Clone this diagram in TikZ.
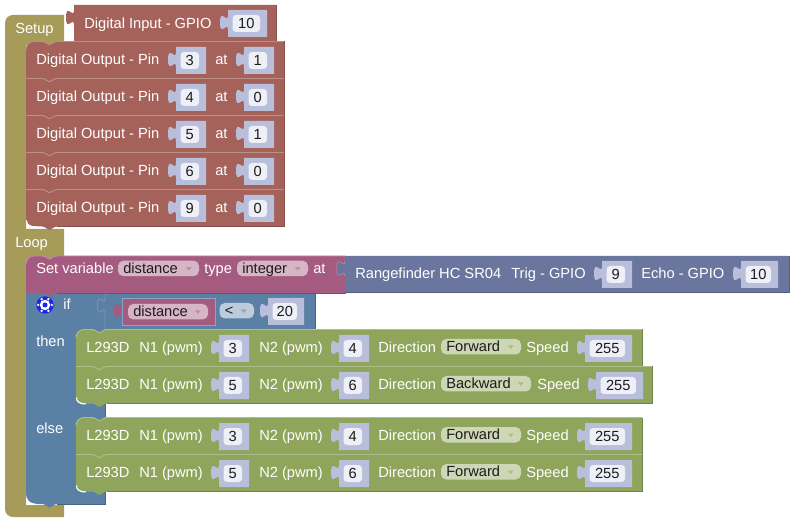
\documentclass[tikz,border=0pt]{standalone}
\usepackage{fontspec}
\setmainfont{Liberation Sans}
\definecolor{cOlive}{HTML}{A69B59}
\definecolor{cDig}{HTML}{A5625B}
\definecolor{cGreen}{HTML}{8FA55B}
\definecolor{cBlue}{HTML}{5B80A5}
\definecolor{cMag}{HTML}{A55B80}
\definecolor{cRange}{HTML}{6B769E}
\definecolor{cNum}{HTML}{B9BEDB}
\definecolor{cField}{HTML}{EEEFF7}
\definecolor{cTxt}{HTML}{1C1C1C}
\tikzset{
  lbl/.style={anchor=base west,inner sep=0pt,text=white,font=\fontsize{11}{13}\selectfont},
  dark/.style={anchor=base,inner sep=0pt,text=cTxt,font=\fontsize{11}{13}\selectfont},
  darkw/.style={anchor=base west,inner sep=0pt,text=cTxt,font=\fontsize{11}{13}\selectfont},
}
\newcounter{nn}
\newcommand{\tx}[3]{\stepcounter{nn}\node[lbl] (t\thenn) at (#1,{#2+.8}) {#3};}
% left puzzle tab, going downward along x=#1 from y=#2+5 to y=#2+20
\newcommand{\tabp}[2]{({#1},{#2+5}) .. controls ({#1},{#2+15}) and ({#1-8},{#2-3}) .. ({#1-8},{#2+12.5}) .. controls ({#1-8},{#2+28}) and ({#1},{#2+10}) .. ({#1},{#2+20})}
% statement block: x1 y1 x2 y2 colour rTop rBottom
\newcommand{\stmt}[7]{%
  \fill[#5] ({#1},{#2+#6}) .. controls ({#1},{#2+#6*.45}) and ({#1+#6*.45},{#2}) .. ({#1+#6},{#2})
    -- ({#1+16},{#2}) .. controls ({#1+20},{#2}) and ({#1+21},{#2+3.2}) .. ({#1+23.5},{#2+3.2})
    .. controls ({#1+26},{#2+3.2}) and ({#1+27},{#2}) .. ({#1+31},{#2})
    -- ({#3},{#2}) -- ({#3},{#4}) -- ({#1+31},{#4})
    .. controls ({#1+27},{#4}) and ({#1+26},{#4+3.4}) .. ({#1+23.5},{#4+3.4})
    .. controls ({#1+21},{#4+3.4}) and ({#1+20},{#4}) .. ({#1+16},{#4})
    -- ({#1+#7},{#4}) .. controls ({#1+#7*.45},{#4}) and ({#1},{#4-#7*.45}) .. ({#1},{#4-#7}) -- cycle;
  \draw[#5!72!white,line width=.7pt] ({#1},{#2+#6}) .. controls ({#1},{#2+#6*.45}) and ({#1+#6*.45},{#2}) .. ({#1+#6},{#2})
    -- ({#1+16},{#2}) .. controls ({#1+20},{#2}) and ({#1+21},{#2+3.2}) .. ({#1+23.5},{#2+3.2})
    .. controls ({#1+26},{#2+3.2}) and ({#1+27},{#2}) .. ({#1+31},{#2}) -- ({#3},{#2});
  \draw[#5!80!black,line width=.6pt] ({#3},{#2}) -- ({#3},{#4}) -- ({#1+31},{#4});
}
% white inner corner under the last statement of a stack: x y
\newcommand{\innerc}[2]{\draw[white,line width=.9pt] ({#1+.5},{#2-6}) .. controls ({#1+.5},{#2-2}) and ({#1+3},{#2+.4}) .. ({#1+10},{#2+.4});}
% block with output tab: x1 y1 x2 y2 colour
\newcommand{\outb}[5]{\fill[#5] ({#1},{#2}) -- \tabp{#1}{#2} -- ({#1},{#4}) -- ({#3},{#4}) -- ({#3},{#2}) -- cycle;}
% number block: x1 x2 top text
\newcommand{\num}[4]{%
  \outb{#1}{#3+5.5}{#2}{#3+32.5}{cNum}
  \fill[cField,rounded corners=2.6pt] ({#1+4.5},{#3+10.5}) rectangle ({#2-7},{#3+27.5});
  \stepcounter{nn}\path ({#1+4.5+(#2-7-#1-4.5)/2},{#3+24}) node[dark] (n\thenn) {#4};}
% dropdown: x1 x2 ytop text fill arrow
\newcommand{\dd}[6]{%
  \fill[#5,rounded corners=4pt] (#1,#3) rectangle (#2,{#3+15.5});
  \stepcounter{nn}\node[darkw] (d\thenn) at ({#1+5},{#3+12.7}) {#4};
  \fill[#6] ({#2-13},{#3+6.5}) -- ({#2-7.5},{#3+6.5}) -- ({#2-10.25},{#3+10}) -- cycle;}
% one row of the L293D block
\newcommand{\motor}[7]{%
  \tx{86}{#1+22}{L293D}
  \tx{139}{#1+22}{N1 (pwm)}
  \num{219}{249}{#1}{#2}
  \tx{259}{#1+22}{N2 (pwm)}
  \num{339}{369}{#1}{#3}
  \tx{378}{#1+22}{Direction}
  \dd{441}{#5}{#1+9.5}{#4}{cGreen!45!white}{cGreen!75!white}
  \tx{#6}{#1+22}{Speed}
  \num{#7}{#7+47}{#1}{255}
}
\newcommand{\digout}[3]{%
  \tx{36}{#1+22.5}{Digital Output - Pin}
  \num{176}{206}{#1}{#2}
  \tx{215}{#1+22.5}{at}
  \num{244}{274}{#1}{#3}
}
\begin{document}
\begin{tikzpicture}[x=0.75pt,y=-0.75pt]
\useasboundingbox (0,0) rectangle (795,523);
\fill[white] (0,0) rectangle (795,523);

% olive Setup/Loop hat
\fill[cOlive] (5,23) .. controls (5,18) and (9,15) .. (13,15) -- (64,15) -- (64,45) -- (26,45)
  -- (26,229) -- (64,229) -- (64,260) -- (26,260) -- (26,505) -- (64,505) -- (64,517)
  -- (13,517) .. controls (9,517) and (5,514) .. (5,509) -- cycle;
\tx{15}{33}{Setup}
\tx{15}{247}{Loop}

% Digital Input
\outb{74}{5}{276}{41.5}{cDig}
\draw[cDig!80!black,line width=.6pt] (276,5) -- (276,41.5);
\tx{84}{28}{Digital Input - GPIO}
\num{228}{267}{4.5}{10}

% Digital outputs
\stmt{26}{41.5}{284}{78.5}{cDig}{8}{0}
\stmt{26}{78.5}{284}{115.5}{cDig}{0}{0}
\stmt{26}{115.5}{284}{152.5}{cDig}{0}{0}
\stmt{26}{152.5}{284}{189.5}{cDig}{0}{0}
\stmt{26}{189.5}{284}{226.5}{cDig}{0}{8}
\innerc{26}{226.5}
\digout{41.5}{3}{1}
\digout{78.5}{4}{0}
\digout{115.5}{5}{1}
\digout{152.5}{6}{0}
\digout{189.5}{9}{0}

% If block (drawn first so that the variable block's tab lies over it)
\fill[cBlue] (26,293) -- (315,293) -- (315,330) -- (105,330) -- (105,504) -- (65,504)
  -- (57,504) .. controls (53,504) and (52,507.5) .. (49.5,507.5) .. controls (47,507.5) and (46,504) .. (42,504)
  -- (37,504) .. controls (31,504) and (26,500) .. (26,494) -- cycle;
\innerc{26}{504}
\draw[cBlue!80!black,line width=.6pt] (315,293) -- (315,330);
\draw[cBlue!80!black,line width=.6pt] (105,403.5) -- (105,417.5);
\draw[cBlue!80!black,line width=.6pt] (105,491.5) -- (105,504) -- (57,504);
\draw[cBlue!85!white,line width=.7pt] (105,293) -- (105,298) .. controls (105,308) and (97.5,290) .. (97.5,305.5) .. controls (97.5,321) and (105,303) .. (105,313) -- (105,330);

% Set variable and Rangefinder
\stmt{26}{256}{345}{293}{cMag}{8}{0}
\draw[cMag!60!white,line width=.7pt] (345,261) .. controls (345,271) and (337,253) .. (337,268.5) .. controls (337,284) and (345,266) .. (345,276);
\outb{345}{256}{789}{292.5}{cRange}
\draw[cRange!80!black,line width=.6pt] (789,256) -- (789,292.5) -- (345,292.5);
\tx{36}{272.7}{Set variable}
\dd{118}{199}{260.7}{distance}{cMag!45!white}{cMag!70!white}
\tx{204}{272.7}{type}
\dd{237}{308}{260.7}{integer}{cMag!45!white}{cMag!70!white}
\tx{313}{272.7}{at}
\tx{355}{278}{Rangefinder HC SR04}
\tx{511}{278}{Trig - GPIO}
\num{602}{632}{255.5}{9}
\tx{641}{278}{Echo - GPIO}
\num{741}{778}{255.5}{10}

% If contents
\fill[blue!70!cBlue] (45,305) circle (8.7);
\fill[white] (45,305) circle (5.2);
\foreach \a in {0,60,...,300}{\fill[white] (45,305) ++(\a:6.8) circle (1.3);}
\fill[blue!70!cBlue] (45,305) circle (2.5);
\tx{63}{309}{if}
\tx{36}{346}{then}
\tx{36}{433}{else}

\outb{122}{298}{215}{325}{cMag}
\draw[cBlue!70!white,line width=.7pt] (122,298) rectangle (215,325);
\dd{128}{208}{304}{distance}{cMag!45!white}{cMag!70!white}
\dd{219.5}{254}{303}{<}{cBlue!40!white}{cBlue!70!white}
\num{268}{304}{292.5}{20}

% Motor rows
\stmt{76}{329.5}{642}{366.5}{cGreen}{8}{0}
\stmt{76}{366.5}{652}{403.5}{cGreen}{0}{8}
\innerc{76}{403.5}
\stmt{76}{417.5}{642}{454.5}{cGreen}{8}{0}
\stmt{76}{454.5}{642}{491.5}{cGreen}{0}{8}
\innerc{76}{491.5}
\motor{329.5}{3}{4}{Forward}{521}{526}{585}
\motor{366.5}{5}{6}{Backward}{531}{537}{596}
\motor{417.5}{3}{4}{Forward}{521}{526}{585}
\motor{454.5}{5}{6}{Forward}{521}{526}{585}
\end{tikzpicture}
\end{document}
